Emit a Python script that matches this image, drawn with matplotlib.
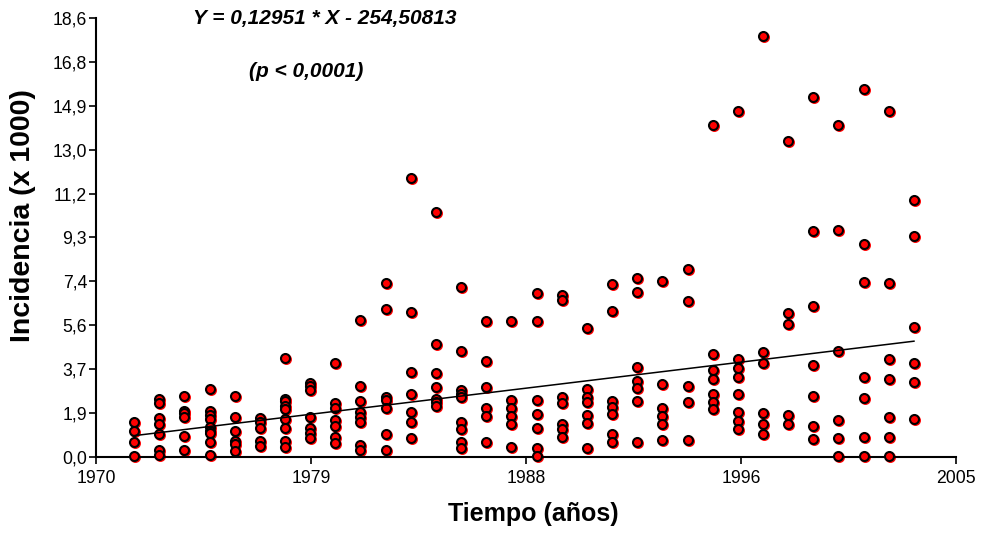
import matplotlib
matplotlib.use("Agg")
import matplotlib.pyplot as plt
import matplotlib.transforms as mtransforms
import numpy as np

plt.rcParams['font.family'] = ['Liberation Sans', 'DejaVu Sans']

# Incidencia anual (x 1000), un grupo de valores por año
years = list(range(1972, 2004))
incidence = [
    [1.46, 1.08, 0.63, 0.04],
    [2.44, 2.26, 1.62, 1.37, 0.94, 0.28, 0.05],
    [2.56, 1.94, 1.83, 1.66, 0.87, 0.28],
    [2.85, 1.92, 1.76, 1.58, 1.27, 1.08, 0.98, 0.63, 0.05],
    [2.56, 1.68, 1.08, 0.66, 0.52, 0.25],
    [1.62, 1.48, 1.22, 0.66, 0.45],
    [4.19, 2.45, 2.37, 2.16, 2.02, 1.59, 1.22, 0.66, 0.42],
    [3.13, 2.99, 2.82, 1.68, 1.22, 0.98, 0.80],
    [3.96, 2.28, 2.07, 1.55, 1.31, 0.83, 0.56],
    [5.79, 2.99, 2.34, 1.90, 1.69, 1.48, 0.49, 0.26],
    [7.38, 6.25, 2.52, 2.40, 2.05, 0.94, 0.28],
    [11.82, 6.12, 3.60, 2.64, 1.89, 1.45, 0.80],
    [10.38, 4.78, 3.53, 2.94, 2.44, 2.30, 2.16],
    [7.21, 4.49, 2.81, 2.64, 2.54, 1.45, 1.15, 0.62, 0.35],
    [5.74, 4.04, 2.94, 2.05, 1.73, 0.63],
    [5.74, 2.40, 2.05, 1.73, 1.38, 0.42],
    [6.93, 5.74, 2.40, 1.82, 1.22, 0.35, 0.03],
    [6.87, 6.63, 2.51, 2.28, 1.38, 1.15, 0.84],
    [5.44, 2.85, 2.54, 2.33, 1.75, 1.43, 0.35],
    [7.31, 6.18, 2.36, 2.11, 1.80, 0.94, 0.63],
    [7.59, 7.00, 3.81, 3.22, 2.89, 2.36, 0.63],
    [7.45, 3.08, 2.05, 1.73, 1.38, 0.70],
    [7.95, 6.61, 3.01, 2.33, 0.70],
    [14.07, 4.34, 3.67, 3.29, 2.64, 2.33, 2.03],
    [14.68, 4.14, 3.74, 3.37, 2.64, 1.90, 1.52, 1.15],
    [17.85, 4.42, 3.96, 1.83, 1.38, 0.94],
    [13.42, 6.10, 5.65, 1.76, 1.38],
    [15.26, 9.57, 6.39, 3.90, 2.57, 1.29, 0.73],
    [14.07, 9.64, 4.49, 1.55, 0.80, 0.03],
    [15.63, 9.05, 7.42, 3.39, 2.50, 0.84, 0.03],
    [14.68, 7.38, 4.13, 3.29, 1.66, 0.84, 0.03],
    [10.89, 9.36, 5.51, 3.96, 3.15, 1.59],
]

# regresion lineal
slope = 0.12951
intercept = -254.50813

x_ticklabels = ['1970', '1979', '1988', '1996', '2005']
y_ticklabels = ['0,0', '1,9', '3,7', '5,6', '7,4', '9,3', '11,2', '13,0', '14,9', '16,8', '18,6']

xs = np.concatenate([[yr] * len(v) for yr, v in zip(years, incidence)])
ys = np.concatenate(incidence)

fig = plt.figure(figsize=(9.81, 5.33), dpi=100)
ax = fig.add_axes([0.0979, 0.1435, 0.8766, 0.8222])

xmin, xmax = 1970.49, 2004.67
ymax = 18.62

# sombra roja desplazada + punto con borde negro
shadow = mtransforms.offset_copy(ax.transData, fig=fig, x=1, y=-1, units='dots')
ax.scatter(xs, ys, s=42, color='red', edgecolors='red', linewidths=1.4,
           transform=shadow, zorder=2, clip_on=False)
ax.scatter(xs, ys, s=42, color='red', edgecolors='black', linewidths=1.5,
           zorder=3, clip_on=False)

yr = np.array(years)
ax.plot(yr, slope * yr + intercept, color='black', linewidth=1.1, zorder=4)

ax.set_xlim(xmin, xmax)
ax.set_ylim(0, ymax)
ax.set_xticks(np.linspace(xmin, xmax, len(x_ticklabels)))
ax.set_xticklabels(x_ticklabels)
ax.set_yticks(np.linspace(0, ymax, len(y_ticklabels)))
ax.set_yticklabels(y_ticklabels)

for side in ['top', 'right']:
    ax.spines[side].set_visible(False)
for side in ['left', 'bottom']:
    ax.spines[side].set_linewidth(1.5)
ax.tick_params(axis='both', length=5, width=1.2, labelsize=12.7, color='black')
ax.tick_params(axis='x', pad=5)
ax.tick_params(axis='y', pad=1.5)

fig.text(0.0234, 0.5947, 'Incidencia (x 1000)', rotation=90, ha='center', va='center',
         fontsize=20.5, fontweight='bold')
fig.text(0.5433, 0.0231, 'Tiempo (años)', ha='center', va='baseline',
         fontsize=18, fontweight='bold')

fig.text(0.331, 0.9662, 'Y = 0,12951 * X - 254,50813', ha='center', va='center',
         fontsize=15, fontweight='bold', style='italic')
fig.text(0.312, 0.8655, '(p < 0,0001)', ha='center', va='center',
         fontsize=15, fontweight='bold', style='italic')

fig.savefig('out.png', dpi=100)
